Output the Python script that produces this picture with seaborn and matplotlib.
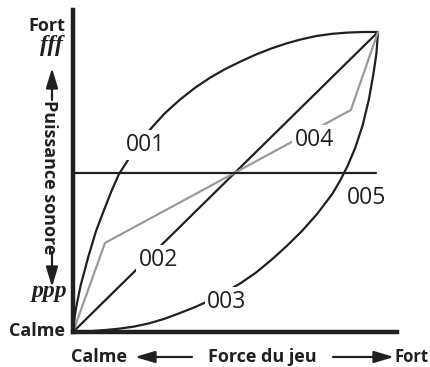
import matplotlib
matplotlib.use("Agg")
import matplotlib.pyplot as plt
import seaborn as sns
import pandas as pd

# curves, force (x) vs loudness (y), both 0..1
curve_001_x = [0.0, 0.004, 0.01, 0.025, 0.05, 0.075, 0.1, 0.125, 0.15, 0.2, 0.25, 0.3,
               0.35, 0.4, 0.45, 0.5, 0.55, 0.6, 0.65, 0.7, 0.75, 0.8, 0.85, 0.9, 0.95, 1.0]
curve_001_y = [0.0, 0.04, 0.08, 0.155, 0.25, 0.335, 0.402, 0.467, 0.525, 0.605, 0.672,
               0.728, 0.774, 0.814, 0.848, 0.877, 0.902, 0.925, 0.945, 0.962, 0.976,
               0.987, 0.994, 0.998, 1.0, 1.0]
curve_002_x = [0.0, 1.0]
curve_002_y = [0.0, 1.0]
curve_003_x = [0.0, 0.05, 0.1, 0.15, 0.2, 0.25, 0.3, 0.35, 0.4, 0.45, 0.5, 0.55, 0.6,
               0.65, 0.7, 0.75, 0.8, 0.85, 0.875, 0.9, 0.925, 0.95, 0.97, 0.985, 0.995,
               1.0]
curve_003_y = [0.0, 0.002, 0.006, 0.011, 0.018, 0.029, 0.044, 0.063, 0.083, 0.106, 0.133,
               0.163, 0.198, 0.24, 0.286, 0.336, 0.393, 0.46, 0.503, 0.553, 0.613, 0.69,
               0.775, 0.86, 0.93, 1.0]
curve_004_x = [0.0, 0.105, 0.911, 1.0]
curve_004_y = [0.0, 0.297, 0.740, 1.0]
curve_005_x = [0.0, 0.993]
curve_005_y = [0.53, 0.53]

labels = ["001", "002", "003", "004", "005"]
label_x = [0.239, 0.279, 0.505, 0.793, 0.964]
label_y = [0.623, 0.240, 0.100, 0.640, 0.447]

INK = "#231f20"
W, H = 430, 367


def fx(px):
    return px / W


def fy(py):
    return 1 - py / H


def _main():
    sns.set_theme(style="white")
    plt.rcParams["font.family"] = ["Open Sans", "DejaVu Sans"]

    fig = plt.figure(figsize=(4.3, 3.67), dpi=100)
    ax = fig.add_axes([fx(73), fy(332), fx(397) - fx(73), fy(10) - fy(332)])

    curves = [
        (curve_001_x, curve_001_y, INK),
        (curve_002_x, curve_002_y, INK),
        (curve_003_x, curve_003_y, INK),
        (curve_004_x, curve_004_y, "#9a9a9a"),
        (curve_005_x, curve_005_y, INK),
    ]
    for xs, ys, color in curves:
        df = pd.DataFrame({"x": xs, "y": ys})
        sns.lineplot(data=df, x="x", y="y", sort=False, color=color, lw=1.6,
                     ax=ax, solid_capstyle="round", solid_joinstyle="round", zorder=2)

    for lab, x, y in zip(labels, label_x, label_y):
        ax.text(x, y, lab, ha="center", va="center", fontsize=16.5, color=INK,
                bbox=dict(boxstyle="square,pad=0.12", fc="white", ec="none"), zorder=3)

    ax.set_xlim(0, 324 / 305)
    ax.set_ylim(0, 322 / 300)
    ax.set_xticks([])
    ax.set_yticks([])
    ax.set_xlabel("")
    ax.set_ylabel("")
    for side in ["top", "right"]:
        ax.spines[side].set_visible(False)
    for side in ["left", "bottom"]:
        ax.spines[side].set_linewidth(3.2)
        ax.spines[side].set_color(INK)

    bold = dict(fontsize=13, fontweight="bold", color=INK, ha="center", va="center")
    fig.text(fx(47), fy(26), "Fort", **bold)
    fig.text(fx(37), fy(331), "Calme", **bold)
    fig.text(fx(99), fy(357), "Calme", **bold)
    fig.text(fx(262), fy(357), "Force du jeu", **bold)
    fig.text(fx(429), fy(357), "Fort", **dict(bold, ha="right", fontsize=12))
    fig.text(fx(49), fy(177), "Puissance sonore", rotation=-90, **bold)

    dyn = dict(fontsize=17, fontweight="bold", style="italic", color=INK,
               family="Liberation Serif", ha="center", va="center")
    fig.text(fx(51), fy(45), "fff", **dyn)
    fig.text(fx(49), fy(292), "ppp", **dyn)

    arrow = dict(arrowstyle="-|>,head_length=0.6,head_width=0.18", mutation_scale=20,
                 lw=1.6, color=INK, shrinkA=0, shrinkB=0)
    for tail, tip in [((52, 100), (52, 68)), ((52, 252), (52, 287)),
                      ((192, 357), (135, 357)), ((333, 357), (394, 357))]:
        fig.add_artist(matplotlib.patches.FancyArrowPatch(
            (fx(tail[0]), fy(tail[1])), (fx(tip[0]), fy(tip[1])),
            transform=fig.transFigure, **arrow))

    fig.savefig("out.png", dpi=100)
    plt.close(fig)


if __name__ == "__main__":
    _main()
